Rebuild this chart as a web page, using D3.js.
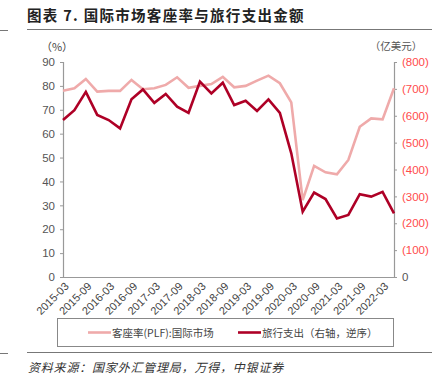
<!DOCTYPE html>
<html><head><meta charset="utf-8">
<script src="https://cdn.jsdelivr.net/npm/d3@7/dist/d3.min.js"></script>
<style>
html,body{margin:0;padding:0;background:#fff;}
svg{display:block;}
</style></head>
<body><svg id="c" width="440" height="383"></svg>
<script>
const quarters = ["2015-03","2015-06","2015-09","2015-12","2016-03","2016-06","2016-09","2016-12",
 "2017-03","2017-06","2017-09","2017-12","2018-03","2018-06","2018-09","2018-12",
 "2019-03","2019-06","2019-09","2019-12","2020-03","2020-06","2020-09","2020-12",
 "2021-03","2021-06","2021-09","2021-12","2022-03","2022-06"];
const plf = [78.0,79.0,82.9,77.6,77.9,77.9,82.5,78.6,79.0,80.4,83.6,79.2,80.0,80.8,83.8,79.4,
 80.0,82.2,84.3,81.1,73.1,32.2,46.5,43.8,43.0,49.0,62.9,66.4,66.0,79.0];
const travel = [-584,-621,-689,-603,-584,-553,-661,-698,-648,-681,-634,-611,-727,-683,-723,-640,
 -656,-618,-661,-611,-460,-243,-314,-290,-218,-231,-308,-299,-317,-237];
const leftTicks = [0,10,20,30,40,50,60,70,80,90];
const rightTicks = [0,-100,-200,-300,-400,-500,-600,-700,-800];
const xTickLabels = quarters.filter((q,i)=>i%2===0);
const title = "图表 7. 国际市场客座率与旅行支出金额";
const seriesNames = ["客座率(PLF):国际市场","旅行支出（右轴，逆序）"];
const source = "资料来源：国家外汇管理局，万得，中银证券";

const svg = d3.select("#c");
const cjk = "'Noto Sans CJK SC','Noto Sans',sans-serif";
const narrow = "'Liberation Sans Narrow','Arial Narrow','Liberation Sans',Arial,sans-serif";
const L = 63, R = 394, T = 62, B = 277;
const x = d3.scalePoint().domain(quarters).range([L, R]);
const yL = d3.scaleLinear().domain([0, 90]).range([B, T]);
const yR = d3.scaleLinear().domain([0, -800]).range([B, T]);

// title
svg.append("text").attr("x", 27).attr("y", 21).text(title)
  .attr("font-family", cjk).attr("font-weight", "bold").attr("font-size", 14.5)
  .attr("letter-spacing", 1.3).attr("fill", "#222");
svg.append("line").attr("x1", 27).attr("x2", 432).attr("y1", 29.5).attr("y2", 29.5).attr("stroke", "#777").attr("stroke-width", 1.2);
svg.append("line").attr("x1", 0).attr("x2", 8).attr("y1", 30.5).attr("y2", 30.5).attr("stroke", "#777").attr("stroke-width", 1);

// unit labels
svg.append("text").attr("x", 57).attr("y", 51).attr("text-anchor", "middle").text("（%）")
  .attr("font-family", cjk).attr("font-size", 11).attr("fill", "#444");
svg.append("text").attr("x", 396).attr("y", 50).attr("text-anchor", "middle").text("（亿美元）")
  .attr("font-family", cjk).attr("font-size", 10.5).attr("fill", "#555");

// axes
const axisL = svg.append("g").attr("transform", `translate(${L},0)`)
  .call(d3.axisLeft(yL).tickValues(leftTicks).tickSize(3).tickPadding(5));
const axisR = svg.append("g").attr("transform", `translate(${R},0)`)
  .call(d3.axisRight(yR).tickValues(rightTicks).tickSize(3).tickPadding(5)
    .tickFormat(d => d === 0 ? "0" : "(" + (-d) + ")"));
[axisL, axisR].forEach(g => {
  g.select(".domain").attr("stroke", "#999").attr("stroke-width", 1.2);
  g.selectAll(".tick line").attr("stroke", "#999");
  g.selectAll(".tick text").attr("font-family", narrow).attr("font-size", 11.5).attr("fill", "#555");
});
axisR.selectAll(".tick text").attr("fill", d => d < 0 ? "#FF4B4B" : "#555");

// x axis
const axisX = svg.append("g").attr("transform", `translate(0,${B})`)
  .call(d3.axisBottom(x).tickValues(xTickLabels).tickSize(0).tickPadding(0));
axisX.select(".domain").attr("stroke", "#999").attr("stroke-width", 1.2);
axisX.selectAll(".tick text")
  .attr("font-family", narrow).attr("font-size", 11).attr("fill", "#444")
  .attr("text-anchor", "end").attr("dy", 0)
  .attr("transform", "translate(6,10) rotate(-45)");

// lines
const lineL = d3.line().x((d, i) => x(quarters[i])).y(d => yL(d));
const lineR = d3.line().x((d, i) => x(quarters[i])).y(d => yR(d));
svg.append("path").datum(plf).attr("d", lineL).attr("fill", "none")
  .attr("stroke", "#EFAAAA").attr("stroke-width", 2.6).attr("stroke-linejoin", "miter");
svg.append("path").datum(travel).attr("d", lineR).attr("fill", "none")
  .attr("stroke", "#AE0026").attr("stroke-width", 2.6).attr("stroke-linejoin", "miter");

// legend
svg.append("rect").attr("x", 57.5).attr("y", 318.5).attr("width", 336).attr("height", 28)
  .attr("fill", "none").attr("stroke", "#888").attr("stroke-width", 1);
const leg = [{c: "#EFAAAA", x1: 88, name: seriesNames[0]}, {c: "#AE0026", x1: 238, name: seriesNames[1]}];
leg.forEach(l => {
  svg.append("line").attr("x1", l.x1).attr("x2", l.x1 + 23).attr("y1", 332.5).attr("y2", 332.5)
    .attr("stroke", l.c).attr("stroke-width", 2.6);
  svg.append("text").attr("x", l.x1 + 24).attr("y", 336.5).text(l.name)
    .attr("font-family", cjk).attr("font-size", 10.5).attr("fill", "#444");
});

// bottom
svg.append("line").attr("x1", 27).attr("x2", 432).attr("y1", 352.5).attr("y2", 352.5).attr("stroke", "#777").attr("stroke-width", 1.2);
svg.append("line").attr("x1", 0).attr("x2", 8).attr("y1", 353.5).attr("y2", 353.5).attr("stroke", "#777").attr("stroke-width", 1);
svg.append("text").attr("x", 28).attr("y", 372).text(source)
  .attr("font-family", cjk).attr("font-style", "italic").attr("font-size", 12)
  .attr("letter-spacing", 0.8).attr("fill", "#333");
</script>
</body></html>
